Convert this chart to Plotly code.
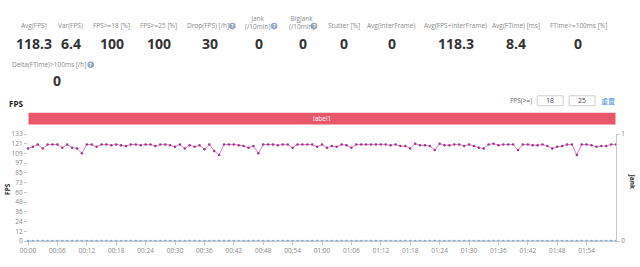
import plotly.graph_objects as go

# ---------------- data ----------------
fps_values = [115, 117, 120, 115, 120, 120, 120, 116, 120, 116,
              115, 109, 120, 120, 117, 120, 120, 119, 120, 119,
              118, 120, 120, 119, 120, 120, 118, 120, 120, 119,
              117, 120, 115, 119, 117, 119, 114, 120, 112, 107,
              120, 120, 120, 119, 118, 116, 118, 109, 120, 120,
              120, 119, 120, 120, 116, 120, 120, 120, 120, 117,
              120, 116, 118, 117, 120, 119, 116, 120, 120, 120,
              120, 120, 120, 120, 119, 120, 118, 118, 115, 121,
              119, 119, 118, 113, 121, 119, 119, 120, 120, 118,
              120, 118, 116, 115, 120, 121, 119, 120, 120, 120,
              113, 120, 120, 119, 119, 120, 118, 115, 117, 118,
              120, 120, 107, 120, 120, 119, 117, 118, 118, 120, 120]
jank_values = [0] * len(fps_values)
times = ["%02d:%02d" % (i // 60, i % 60) for i in range(len(fps_values))]
tick_times = times[0:115:6]

y_max = 133
y_ticks = [k * y_max / 11 for k in range(12)]
y_tick_text = [str(int(v + 0.5)) for v in y_ticks]

stat_labels = ["Avg(FPS)", "Var(FPS)", "FPS>=18 [%]", "FPS>=25 [%]", "Drop(FPS) [/h]",
               "Jank<br>(/10min)", "BigJank<br>(/10min)", "Stutter [%]", "Avg(InterFrame)",
               "Avg(FPS+InterFrame)", "Avg(FTime) [ms]", "FTime>=100ms [%]"]
stat_values = ["118.3", "6.4", "100", "100", "30", "0", "0", "0", "0", "118.3", "8.4", "0"]
stat2_label = "Delta(FTime)>100ms [/h]"
stat2_value = "0"
fps_thresholds = ["18", "25"]

# ---------------- geometry helpers ----------------
W, H = 640, 267
ML, MR, MT, MB = 26, 24, 134, 14
PW, PH = W - ML - MR, H - MT - MB


def px(x):
    return (x - ML) / PW


def py(y):
    return (H - MB - y) / PH


fig = go.Figure()
xs = list(range(len(fps_values)))
fig.add_trace(go.Scatter(
    x=xs, y=jank_values, yaxis="y2", mode="lines+markers",
    line=dict(color="#a9c3e6", width=1),
    marker=dict(size=2.5, color="#7fa2d2"), cliponaxis=False, name="Jank"))
fig.add_trace(go.Scatter(
    x=xs, y=fps_values, mode="lines+markers",
    line=dict(color="#e47acb", width=1),
    marker=dict(size=2.5, color="#9a3a86"), cliponaxis=False, name="FPS"))

annotations = []
shapes = []
LABEL_FONT = dict(family="Open Sans", size=6.5, color="#8a8a8a")
VAL_FONT = dict(family="Open Sans", size=14, color="#333333")

label_x = [32, 69, 110, 157, 207, 256, 300, 343, 391, 455, 516, 578]
icon_cols = {4: 231, 5: 273, 6: 313}
for i, (lab, val) in enumerate(zip(stat_labels, stat_values)):
    two = "<br>" in lab
    annotations.append(dict(x=px(label_x[i]), y=py(9.5 if two else 13.5), text=lab,
                            xref="paper", yref="paper", showarrow=False,
                            xanchor="center", yanchor="middle", font=LABEL_FONT))
    annotations.append(dict(x=px(label_x[i] if i not in icon_cols else label_x[i] + 2),
                            y=py(33), text="<b>%s</b>" % val,
                            xref="paper", yref="paper", showarrow=False,
                            xanchor="center", yanchor="middle", font=VAL_FONT))

annotations.append(dict(x=px(47), y=py(57), text=stat2_label, xref="paper", yref="paper",
                        showarrow=False, xanchor="center", yanchor="middle", font=LABEL_FONT))
annotations.append(dict(x=px(55), y=py(74), text="<b>%s</b>" % stat2_value, xref="paper",
                        yref="paper", showarrow=False, xanchor="center", yanchor="middle",
                        font=VAL_FONT))

# question icons
for cx, cy in [(231, 14), (273, 14), (313, 14), (89, 57)]:
    shapes.append(dict(type="circle", xref="paper", yref="paper", xsizemode="pixel",
                       ysizemode="pixel", xanchor=px(cx), yanchor=py(cy),
                       x0=-3.3, x1=3.3, y0=-3.3, y1=3.3,
                       fillcolor="#93a6bd", line=dict(width=0)))
    annotations.append(dict(x=px(cx), y=py(cy), text="<b>?</b>", xref="paper", yref="paper",
                            showarrow=False, xanchor="center", yanchor="middle",
                            font=dict(family="Open Sans", size=5.5, color="white")))

# section title
annotations.append(dict(x=px(5), y=py(100), text="<b>FPS</b>", xref="paper", yref="paper",
                        showarrow=False, xanchor="left", yanchor="middle",
                        font=dict(family="Open Sans", size=8, color="#222")))

# threshold controls
annotations.append(dict(x=px(534), y=py(97), text="FPS(>=)", xref="paper", yref="paper",
                        showarrow=False, xanchor="right", yanchor="middle",
                        font=dict(family="Open Sans", size=6.5, color="#666")))
for (x0, x1), t in zip([(537, 563), (569, 595)], fps_thresholds):
    shapes.append(dict(type="rect", xref="paper", yref="paper", x0=px(x0), x1=px(x1),
                       y0=py(102.5), y1=py(91.5), line=dict(color="#d0d0d0", width=1),
                       fillcolor="white"))
    annotations.append(dict(x=px((x0 + x1) / 2), y=py(97), text=t, xref="paper",
                            yref="paper", showarrow=False, xanchor="center", yanchor="middle",
                            font=dict(family="Open Sans", size=7, color="#444")))
annotations.append(dict(x=px(608), y=py(97), text="重置", xref="paper", yref="paper",
                        showarrow=False, xanchor="center", yanchor="middle",
                        font=dict(family="Noto Sans CJK SC", size=7, color="#4a8fe0")))

# red label bar
shapes.append(dict(type="rect", xref="paper", yref="paper", x0=px(26.5), x1=px(615.5),
                   y0=py(123.5), y1=py(110.5), line=dict(width=0), fillcolor="#e9566a"))
annotations.append(dict(x=px(321), y=py(117), text="label1", xref="paper", yref="paper",
                        showarrow=False, xanchor="center", yanchor="middle",
                        font=dict(family="Open Sans", size=6.5, color="white")))

# axis titles
annotations.append(dict(x=px(6), y=py(195), text="<b>FPS</b>", xref="paper", yref="paper",
                        showarrow=False, xanchor="center", yanchor="middle", textangle=-90,
                        font=dict(family="Open Sans", size=6.5, color="#333")))
annotations.append(dict(x=px(632), y=py(187), text="<b>Jank</b>", xref="paper", yref="paper",
                        showarrow=False, xanchor="center", yanchor="middle", textangle=90,
                        font=dict(family="Open Sans", size=6.5, color="#333")))

tickfont = dict(family="Open Sans", size=6.5, color="#888")
fig.update_layout(
    width=W, height=H, autosize=False,
    margin=dict(l=ML, r=MR, t=MT, b=MB, pad=0),
    paper_bgcolor="white", plot_bgcolor="white", showlegend=False,
    xaxis=dict(range=[0, len(fps_values) - 1], tickmode="array",
               tickvals=[times.index(t) for t in tick_times], ticktext=tick_times,
               showgrid=False, zeroline=False, showline=True, linecolor="#c8c8c8",
               ticks="outside", ticklen=3, tickcolor="#c8c8c8", tickfont=tickfont),
    yaxis=dict(range=[0, y_max], tickmode="array", tickvals=y_ticks, ticktext=y_tick_text,
               showgrid=False, zeroline=False, showline=False, ticks="outside", ticklen=3,
               tickcolor="#c8c8c8", tickfont=tickfont),
    yaxis2=dict(range=[0, 1], overlaying="y", side="right", tickvals=[0, 1],
                showgrid=False, zeroline=False, showline=True, linecolor="#c8c8c8",
                ticks="outside", ticklen=3, tickcolor="#c8c8c8", tickfont=tickfont),
    annotations=annotations, shapes=shapes,
)

fig.write_html("out.html")
